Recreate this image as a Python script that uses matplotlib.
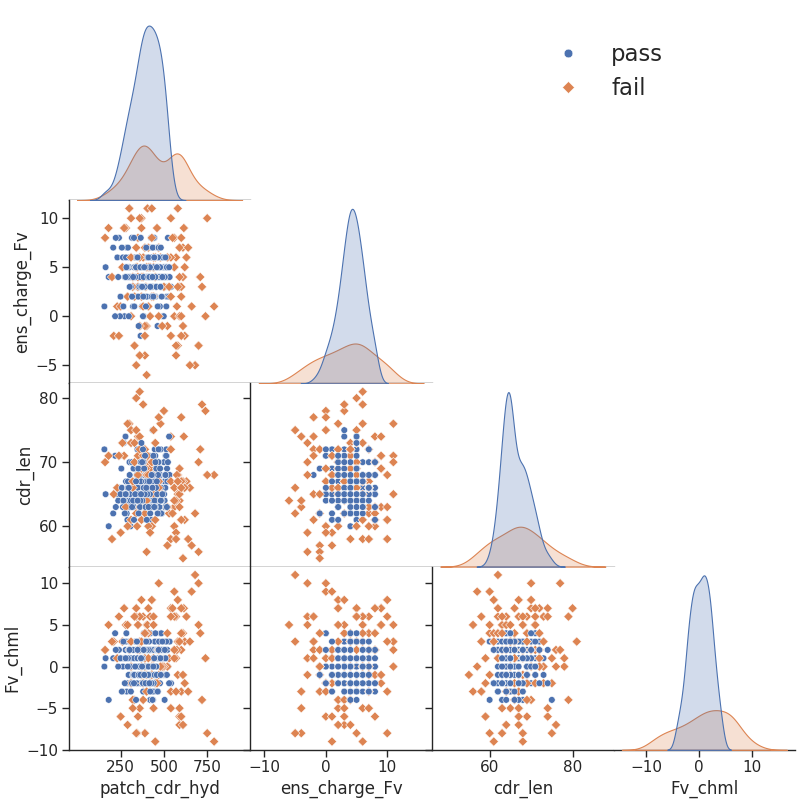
import matplotlib
matplotlib.use('Agg')
import matplotlib.pyplot as plt
import seaborn as sns
import pandas as pd

# pass samples
pass_patch_cdr_hyd = [
    375, 452, 304, 500, 341, 425, 156, 400, 467, 285, 359, 492, 415, 231, 437, 512, 326, 388, 460, 268,
    403, 318, 477, 353, 428, 502, 377, 263, 445, 410, 296, 481, 363, 207, 433, 390, 516, 331, 455, 420,
    382, 499, 310, 440, 357, 408, 527, 278, 462, 395, 345, 485, 417, 240, 450, 369, 506, 301, 427, 393,
    457, 336, 412, 488, 272, 380, 443, 351, 520, 399, 321, 470, 405, 181, 438, 365, 494, 289, 430, 385,
    402, 474, 313, 447, 361, 418, 508, 254, 465, 392, 338, 479, 422, 246, 453, 371, 533, 299, 435, 378,
    424, 349, 468, 497, 281, 387, 442, 355, 514, 407, 324, 458, 397, 218, 432, 367, 490, 307, 449, 413,
    328, 486, 259, 463, 333, 510, 292, 472, 343, 496, 315, 504, 347, 483, 373, 518, 384, 541, 476, 523,
    376, 441, 303, 484, 352, 414, 257, 461, 391, 329, 505, 426, 283, 366, 454, 236, 401, 339, 495, 379,
    419, 362, 466, 309, 431, 381, 274, 501, 396, 344, 456, 404, 222, 370, 487, 291, 436, 389, 513, 354,
    383, 446, 316, 478, 358, 409, 266, 469, 394, 334, 509, 421, 297, 364, 451, 249, 406, 327, 480, 386,
    411, 368, 459, 322, 429, 398, 279, 517, 374, 348, 464, 416, 163, 439, 482, 302, 434, 444, 530, 491,
]
pass_ens_charge_Fv = [
    4, 2, 6, 5, 3, 8, 1, 4, 5, 7, 3, 0, 4, 6, 2, 5, 4, 3, 7, 5,
    6, 4, 1, 3, 5, 4, 2, 6, 8, 4, 5, 3, -1, 7, 4, 6, 2, 5, 3, 4,
    5, 0, 3, 6, 4, 7, 2, 5, 4, 1, 6, 3, 5, 8, 4, 2, 6, 5, 3, 4,
    3, 5, 7, 4, 0, 6, 5, 2, 4, 3, 1, 5, 6, 4, 7, -2, 3, 5, 4, 6,
    4, 6, 2, 5, 8, 3, 4, 1, 5, 7, 6, 4, 3, 0, 5, 2, 4, 6, 3, 5,
    7, 3, 5, 4, 6, 2, 8, 4, 1, 5, 3, 6, 4, 0, 7, 5, 3, 4, 2, 6,
    5, 4, 1, -1, 6, 3, 7, 4, 2, 5, 8, 3, 4, 6, 1, 5, 0, 3, 7, 8,
    3, 5, 4, 6, 2, 4, 7, 5, 3, 1, 4, 6, 5, 8, 3, 4, 2, 5, 6, 0,
    5, 4, 6, 3, 7, 2, 4, 5, 1, 6, 3, 4, 8, 5, 2, 4, 7, 3, 5, -1,
    4, 6, 2, 5, 3, 4, 1, 7, 5, 4, 6, 3, 0, 5, 4, 2, 6, 8, 3, 5,
    6, 3, 5, 4, 2, 7, 4, 5, 3, 6, 1, 4, 5, 2, 7, 3, 4, 6, 5, 4,
]
pass_cdr_len = [
    65, 68, 63, 70, 64, 65, 72, 65, 69, 62, 67, 64, 71, 65, 68, 63, 66, 69, 64, 73,
    68, 64, 69, 65, 61, 67, 70, 63, 65, 68, 64, 72, 65, 62, 69, 65, 71, 64, 67, 63,
    68, 65, 64, 70, 66, 63, 67, 74, 65, 69, 64, 62, 68, 66, 71, 65, 63, 70, 64, 66,
    64, 69, 66, 62, 65, 68, 63, 71, 67, 64, 65, 70, 64, 60, 63, 68, 65, 61, 69, 64,
    67, 63, 65, 72, 68, 64, 66, 69, 62, 70, 65, 68, 64, 71, 66, 63, 68, 65, 75, 69,
    65, 66, 70, 64, 67, 63, 68, 65, 72, 64, 69, 66, 62, 71, 65, 67, 64, 60, 63, 68,
    63, 64, 64, 69, 65, 71, 67, 62, 68, 65, 70, 64, 72, 66, 61, 69, 65, 74, 67, 70,
    64, 67, 65, 62, 69, 63, 66, 65, 71, 64, 68, 63, 65, 70, 66, 64, 61, 67, 65, 72,
    65, 63, 68, 64, 66, 70, 62, 65, 67, 64, 69, 65, 63, 73, 64, 66, 68, 65, 71, 62,
    66, 64, 63, 69, 65, 67, 64, 72, 63, 65, 68, 62, 66, 64, 70, 65, 67, 61, 64, 69,
    63, 65, 67, 64, 68, 66, 65, 63, 70, 64, 62, 67, 65, 71, 64, 68, 66, 63, 74, 65,
]
pass_Fv_chml = [
    -1, 2, -1, 1, 3, -2, 0, 4, 1, -3, 2, 0, -1, 1, -4, 2, 0, 3, -2, 1,
    1, -1, -2, 2, -2, 3, 1, 0, -3, 2, -1, 4, 0, 1, -2, 2, 0, -1, 3, -4,
    2, 0, 1, -2, -1, -1, 3, 2, -3, 1, 0, 4, -1, 2, 0, -2, 1, 3, -2, -1,
    -1, 3, 0, 2, 1, -3, -2, -2, 2, 4, -1, 1, 0, -4, 2, 3, 1, -2, 0, 1,
    -1, 1, -2, 3, -1, 2, 0, 1, -3, 0, 2, -1, 4, 1, 0, -2, 3, 2, -4, 0,
    2, -1, 1, -1, 3, -2, 2, 0, 1, -3, -1, 2, 0, 4, 1, -2, 0, 3, -1, 2,
    1, 0, -3, 2, -1, -1, 1, 3, -2, 2, 0, -4, 1, -1, 2, 0, 4, -2, 1, 0,
    1, -2, 0, 2, -1, 3, -3, 1, 0, -1, 2, -2, 4, 1, -1, 0, 2, -4, 1, -2,
    -1, 2, 1, -3, 0, 2, -2, 1, -1, 3, 0, -2, 2, -1, 1, 0, -3, 2, 3, -1,
    2, -1, -2, 1, 0, -1, 3, 2, -2, 0, 1, -3, 2, -1, 4, 1, 0, -2, 1, -1,
    0, 1, -1, 2, -2, 3, 1, -1, 0, 2, -3, -2, 1, 0, -1, 2, -4, 1, -2, 3,
]

# fail samples
fail_patch_cdr_hyd = [
    580, 350, 620, 410, 540, 230, 380, 390, 710, 470, 560, 300, 440, 420, 520, 180, 590, 360, 680, 450,
    610, 330, 570, 440, 790, 280, 350, 400, 630, 500, 370, 590, 260, 400, 430, 540, 320, 600, 340, 750,
    380, 570, 210, 360, 460, 530, 340, 600, 410, 700, 290, 560, 440, 610, 370, 580, 250, 310, 650, 395,
    560, 310, 600, 430, 540, 200, 390, 470, 720, 360, 575, 345, 615, 490, 405,
    370, 590, 330, 560, 420, 270, 610, 390, 480, 350, 570, 160, 660, 400, 540, 310, 600, 440, 740, 380,
    550, 360, 620, 290, 430, 580, 340, 520, 410, 640, 240, 590, 370, 470, 560, 320, 700, 390, 600, 450,
]
fail_ens_charge_Fv = [
    -3, 8, -2, 5, 10, 1, 6, -4, 4, 7, 0, 11, 2, 5, -1, 9, 3, 6, -5, 4,
    7, 2, -3, 5, 1, 9, 4, -1, 6, 3, 10, 0, 5, -6, 8, 2, 4, -2, 7, 10,
    1, 6, -2, -4, 9, 3, 5, 0, 7, -3, 2, 8, 5, -1, 4, 11, 1, 6, -5, 3,
    5, 0, 8, 2, 6, 4, -2, 7, 3, 10, 1, 5, 9, -1, 11,
    2, 7, -3, 5, 0, 9, 4, -1, 6, 3, -4, 8, 1, 5, -2, 10, 3, 6, 0, 4,
    8, -1, 5, 2, 11, 3, -5, 6, 1, 7, -2, 4, 9, 0, 5, 3, -3, 7, 2, 6,
]
fail_cdr_len = [
    68, 74, 61, 70, 58, 66, 79, 63, 72, 67, 60, 76, 65, 69, 57, 71, 64, 81, 62, 73,
    66, 70, 59, 75, 68, 63, 71, 56, 67, 78, 61, 69, 73, 64, 60, 72, 66, 77, 62, 68,
    71, 58, 65, 74, 69, 62, 80, 67, 60, 70, 76, 63, 68, 55, 72, 65, 59, 73, 66, 69,
    64, 75, 61, 70, 67, 58, 72, 66, 79, 63, 68, 60, 74, 65, 71,
    69, 63, 73, 66, 59, 71, 67, 62, 76, 68, 64, 70, 57, 68, 74, 61, 67, 65, 78, 69,
    62, 72, 66, 60, 70, 67, 75, 63, 68, 58, 71, 65, 69, 77, 64, 67, 56, 72, 66, 61,
]
fail_Fv_chml = [
    -1, -6, 3, 7, -3, 1, 6, -8, 4, -1, 9, 2, -5, 6, 0, 5, -7, 3, 11, -2,
    4, -4, 1, 1, -9, 5, 2, -3, 6, 0, 8, -6, 3, 5, -1, 7, -4, 2, 6, -8,
    -2, 6, 3, -5, -2, 1, 7, -3, 4, 10, -7, 2, 6, -1, 0, 3, -6, 0, 3, 4,
    6, -2, 4, 8, -5, 3, 1, 2, -4, 6, 2, -8, 7, 0, 5,
    3, -5, 6, 1, -2, 7, -7, 4, 0, 5, -3, 2, 9, -1, 6, 3, -6, 5, 1, -4,
    7, 2, -2, 5, 0, 8, -8, 4, 1, -3, 6, 3, -1, 10, 2, -5, 5, 0, 7, -9,
]

# drawing order: first part of pass, then fail, then the rest of pass on top
split = 140
def ordered(p, f):
    return p[:split] + f + p[split:]

labels_pass = ["pass"] * len(pass_Fv_chml)
labels_fail = ["fail"] * len(fail_Fv_chml)

df = pd.DataFrame({
    "patch_cdr_hyd": ordered(pass_patch_cdr_hyd, fail_patch_cdr_hyd),
    "ens_charge_Fv": ordered(pass_ens_charge_Fv, fail_ens_charge_Fv),
    "cdr_len": ordered(pass_cdr_len, fail_cdr_len),
    "Fv_chml": ordered(pass_Fv_chml, fail_Fv_chml),
    "label": ordered(labels_pass, labels_fail),
})

sns.set_theme(style="ticks", font_scale=1.25)
g = sns.pairplot(df, hue="label", hue_order=["pass", "fail"], corner=True,
                 markers=["o", "D"], height=2.5)
g.figure.set_size_inches(10, 10.025)
g.figure.subplots_adjust(left=0.086, right=0.994, bottom=0.065, top=0.979,
                         wspace=0.0, hspace=0.0)

g.axes[3][0].set_xticks([250, 500, 750])
g.axes[2][0].set_yticks([60, 70, 80])

sns.move_legend(g, "upper left", bbox_to_anchor=(0.656, 0.972), title=None,
                frameon=False, fontsize=20.5, handletextpad=0.9, markerscale=1.3)

g.figure.savefig("out.png", dpi=80)
